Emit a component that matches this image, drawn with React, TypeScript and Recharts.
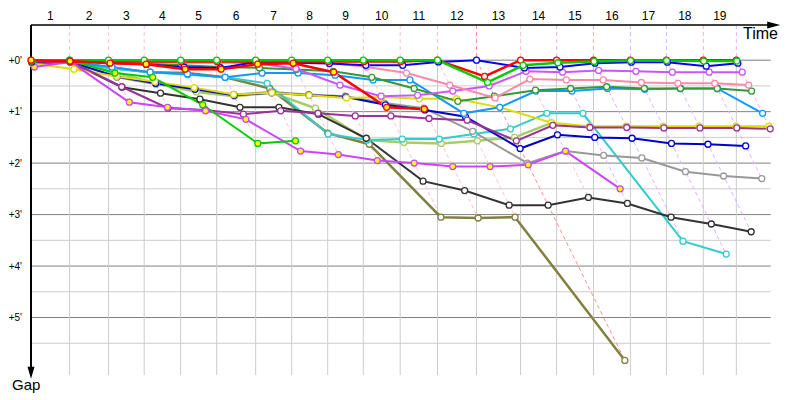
import React from 'react';
import { LineChart, Line, XAxis, YAxis, ReferenceLine, ReferenceDot } from 'recharts';

// leader's time (s) at the end of each lap, lap 0 = start
const lapEnds = [0, 91, 183, 267, 353, 438, 530, 615, 700, 784, 871, 959, 1051, 1155, 1240, 1327, 1414, 1499, 1586, 1664];
const lapLabels = ['1', '2', '3', '4', '5', '6', '7', '8', '9', '10', '11', '12', '13', '14', '15', '16', '17', '18', '19'];
const gapTicks = [0, 60, 120, 180, 240, 300];
const gridGaps = [0, 30, 60, 90, 120, 150, 180, 210, 240, 270, 300, 330];

// gap to leader (s) per lap, from lap 0
const greenGaps = [1, 0, 0, 0, 0, 0, 0, 0, 0, 0, 0, 0, 26, 6, 3, 1.5, 0.5, 0.5, 1, 1];
const redGaps = [1, 1.5, 1.5, 1.5, 1.5, 1.5, 1.5, 1.5, 1.5, 1.5, 1.5, 0, 19, 0, 0, 0, 0, 0, 0, 0];
const red2Gaps = [0, 1, 3.5, 4.7, 10.5, 10.5, 4.7, 3.5, 14, 55, 57];
const blueGaps = [2, 1, 3, 5, 8, 9, 2, 3, 4, 6, 6, 2, 0, 9, 8, 3.5, 2.3, 2.3, 7, 3.5];
const pinkGaps = [3, 1, 2, 2, 3, 3, 1.5, 1.5, 3, 8, 15, 29, 44, 22, 23, 23, 26, 27, 27, 29];
const violetGaps = [2, 1, 1, 2, 2, 2, 3.5, 10, 29, 42, 41, 36, 30, 13, 14, 12, 13, 14, 14, 14];
const magentaGaps = [8, 2, 49, 55, 59, 69, 106, 110, 117, 120, 124, 124, 122, 106, 150];
const darkGreenGaps = [2, 1, 3, 4, 6, 8, 9, 11, 13, 20, 33, 48, 42, 35, 33, 31, 33, 33, 33, 36];
const dodgerGaps = [3, 2, 8, 14, 16, 20, 15, 15, 17.5, 23, 23, 62, 55, 36, 36, 33, 34, 33, 33, 62];
const yellowGaps = [4, 10.5, 19, 25, 32, 40, 38, 41, 44, 43, 45, 45, 55, 73, 77, 77, 77, 77, 77, 77];
const navyGaps = [3, 2, 19, 27, 34, 41, 38, 41, 43, 52, 58, 66, 103, 87, 90, 91, 97, 98, 100];
const grayGaps = [3, 2, 20, 28, 33, 40, 37, 40, 42, 50, 56, 83, 120, 106, 111, 114, 130, 135, 138];
const purpleGaps = [2, 1, 31, 56, 58, 63, 59, 62, 65, 65, 68, 70, 94, 76, 78.5, 78.5, 79, 79, 79, 80];
const blackGaps = [3, 2, 31.5, 38.5, 45.5, 55, 55, 63, 91, 141, 152, 169, 169, 160, 167, 183, 191, 200];
const tealGaps = [4, 2, 10, 14, 17, 20, 27, 86, 93, 92, 92, 86, 80, 62, 62, 211, 226];
const oliveGaps = [2, 1, 9, 14, 15, 20, 33, 85, 98, 183, 184, 183, 350];
const limeGaps = [2, 0, 15, 20, 52, 97, 94];
const yellowGreenGaps = [3, 1, 14, 27, 37, 42, 38, 56, 93, 96, 97, 94, 90, 73];

const series = [
  { gaps: oliveGaps, color: '#808040', fill: '#fff', w: 2.5 },
  { gaps: yellowGreenGaps, color: '#aacc66', fill: '#fff', w: 2.5 },
  { gaps: tealGaps, color: '#33cccc', fill: '#fff', w: 2 },
  { gaps: blackGaps, color: '#333333', fill: '#fff', w: 2 },
  { gaps: grayGaps, color: '#999999', fill: '#fff', w: 2 },
  { gaps: navyGaps, color: '#0000cc', fill: '#fff', w: 2 },
  { gaps: yellowGaps, color: '#dddd00', fill: '#fff', w: 2 },
  { gaps: purpleGaps, color: '#993399', fill: '#fff', w: 2 },
  { gaps: dodgerGaps, color: '#1199ff', fill: '#fff', w: 2 },
  { gaps: darkGreenGaps, color: '#339933', fill: '#fff', w: 2 },
  { gaps: magentaGaps, color: '#cc44ff', fill: '#ffff00', w: 2 },
  { gaps: violetGaps, color: '#cc55ff', fill: '#fff', w: 2 },
  { gaps: limeGaps, color: '#00cc00', fill: '#ffff00', w: 2 },
  { gaps: pinkGaps, color: '#ff88aa', fill: '#fff', w: 2 },
  { gaps: blueGaps, color: '#0000ff', fill: '#fff', w: 2 },
  { gaps: redGaps, color: '#ff0000', fill: '#fff', w: 2.5 },
  { gaps: greenGaps, color: '#00cc00', fill: '#fff', w: 2.5 },
  { gaps: red2Gaps, color: '#ff0000', fill: '#ffff00', w: 2.5 },
];

const X_MAX = 1767;
const GRID_END = 1745;
const Y_MIN = -41;
const Y_MAX = 367;

const lapMids = lapLabels.map((_, i) => (lapEnds[i] + lapEnds[i + 1]) / 2);
const maxGapAt = lapEnds.map((_, lap) =>
  Math.max(0, ...series.map((s) => (s.gaps[lap] === undefined ? 0 : s.gaps[lap])))
);
const dashColor = (lap: number) => (lap === 12 ? '#ff9090' : lap >= 14 ? '#e4b0ff' : '#ffc0d4');

const arrowDown = (p: any) => (
  <polygon points={`${p.cx},${p.cy + 8} ${p.cx - 3.5},${p.cy - 4} ${p.cx + 3.5},${p.cy - 4}`} fill="#000" />
);
const arrowRight = (p: any) => (
  <polygon points={`${p.cx + 4},${p.cy} ${p.cx - 9},${p.cy - 3.5} ${p.cx - 9},${p.cy + 3.5}`} fill="#000" />
);

export default function App() {
  return (
    <div style={{ position: 'absolute', left: 0, top: 0, width: 800, height: 400, background: '#fff', fontFamily: '"Liberation Sans", Arial, sans-serif' }}>
      <LineChart width={800} height={400} margin={{ top: 0, right: 20, bottom: 25, left: 0 }}>
        <XAxis
          type="number"
          dataKey="x"
          orientation="top"
          domain={[0, X_MAX]}
          ticks={lapMids}
          tickFormatter={(v, i) => lapLabels[i]}
          interval={0}
          axisLine={false}
          tickLine={false}
          tickSize={0}
          tickMargin={5}
          height={25}
          tick={{ fontSize: 12, fill: '#000' }}
        />
        <YAxis
          type="number"
          dataKey="y"
          domain={[Y_MIN, Y_MAX]}
          reversed
          ticks={gapTicks}
          tickFormatter={(g) => `+${g / 60}'`}
          interval={0}
          width={31}
          axisLine={false}
          tickLine={false}
          tickSize={0}
          tickMargin={9}
          tick={{ fontSize: 10, fill: '#000' }}
        />

        {gridGaps.map((g) => (
          <ReferenceLine
            key={'h' + g}
            segment={[{ x: 0, y: g }, { x: GRID_END, y: g }]}
            stroke={g % 60 === 0 ? '#808080' : '#cccccc'}
            strokeWidth={1}
          />
        ))}
        {lapEnds.slice(1).map((t) => (
          <ReferenceLine key={'v' + t} segment={[{ x: t, y: 0 }, { x: t, y: Y_MAX }]} stroke="#cccccc" strokeWidth={1} />
        ))}
        {lapEnds.slice(1).map((t, i) => (
          <ReferenceLine
            key={'d' + t}
            segment={[{ x: t, y: Y_MIN }, { x: t, y: 0 }]}
            stroke={dashColor(i + 1)}
            strokeDasharray="4 3"
            strokeWidth={1}
          />
        ))}
        {lapEnds.slice(1).map((t, i) => (
          <ReferenceLine
            key={'s' + t}
            segment={[{ x: t, y: 0 }, { x: t + maxGapAt[i + 1], y: maxGapAt[i + 1] }]}
            stroke={dashColor(i + 1)}
            strokeDasharray="4 3"
            strokeWidth={1}
          />
        ))}

        {series.map((s, idx) => (
          <Line
            key={idx}
            data={s.gaps.map((g, lap) => ({ x: lapEnds[lap] + g, y: g }))}
            dataKey="y"
            type="linear"
            stroke={s.color}
            strokeWidth={s.w}
            dot={{ r: 3, fill: s.fill, stroke: s.color, strokeWidth: 1.3 }}
            activeDot={false}
            isAnimationActive={false}
          />
        ))}

        <ReferenceLine segment={[{ x: 0, y: Y_MIN }, { x: 1760, y: Y_MIN }]} stroke="#000" strokeWidth={1.5} ifOverflow="visible" />
        <ReferenceLine segment={[{ x: 0, y: Y_MIN }, { x: 0, y: 364 }]} stroke="#000" strokeWidth={2} ifOverflow="visible" />
        <ReferenceDot x={1758} y={Y_MIN} r={0} shape={arrowRight} ifOverflow="visible" />
        <ReferenceDot x={0} y={362} r={0} shape={arrowDown} ifOverflow="visible" />
      </LineChart>
      <div style={{ position: 'absolute', left: 743, top: 25, fontSize: 16, lineHeight: '18px', color: '#000' }}>Time</div>
      <div style={{ position: 'absolute', left: 12, top: 376, fontSize: 15, lineHeight: '18px', color: '#000' }}>Gap</div>
    </div>
  );
}
